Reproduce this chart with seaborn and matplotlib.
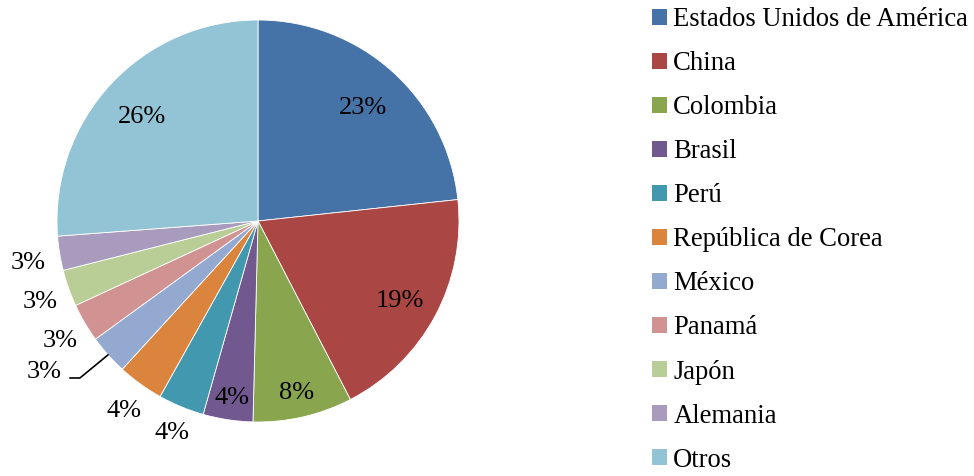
import matplotlib
matplotlib.use('Agg')
import matplotlib.pyplot as plt
import matplotlib.patches as mpatches
import seaborn as sns
import numpy as np

# Data (share of total, %)
countries = ['Estados Unidos de América', 'China', 'Colombia', 'Brasil', 'Perú',
             'República de Corea', 'México', 'Panamá', 'Japón', 'Alemania', 'Otros']
shares = [23.3, 19.1, 8.0, 4.0, 3.7, 3.7, 3.2, 3.1, 2.95, 2.75, 26.2]
colors = ['#4572A7', '#AA4643', '#89A54E', '#71588F', '#4198AF', '#DB843D',
          '#93A9CF', '#D19392', '#B9CD96', '#A99BBD', '#93C4D5']

# radial position of each percentage label (fraction of radius)
label_dist = [0.78, 0.80, 0.86, 0.87, 1.12, 1.14, None, 1.14, 1.15, 1.16, 0.79]

sns.set_theme(style='white')
plt.rcParams['font.family'] = ['Liberation Serif', 'DejaVu Serif']
plt.rcParams['text.color'] = 'black'

fig = plt.figure(figsize=(9.74, 4.76), dpi=100)
W, H = 974, 476
cx, cy, r = 258, 221, 201
ax = fig.add_axes([(cx - r) / W, (H - cy - r) / H, 2 * r / W, 2 * r / H])

wedges, _ = ax.pie(shares, colors=colors, startangle=90, counterclock=False,
                   radius=1, wedgeprops=dict(linewidth=0.6, edgecolor='white'))
ax.set_xlim(-1, 1)
ax.set_ylim(-1, 1)
ax.set_aspect('equal')
ax.axis('off')

fs = 19
for w, val, d in zip(wedges, shares, label_dist):
    mid = np.deg2rad((w.theta1 + w.theta2) / 2)
    txt = f'{round(val):.0f}%'
    if d is None:
        # label with a leader line
        ex, ey = np.cos(mid), np.sin(mid)
        kx, ky = ex - 0.14, ey - 0.115
        tx = kx - 0.05
        ax.plot([ex, kx, tx], [ey, ky, ky], color='black', lw=1.2, clip_on=False)
        ax.text(tx - 0.04, ky + 0.03, txt, ha='right', va='center', fontsize=fs)
    else:
        ax.text(d * np.cos(mid), d * np.sin(mid) - 0.02, txt, ha='center', va='center',
                fontsize=fs, clip_on=False)

handles = [mpatches.Patch(facecolor=c, edgecolor='none') for c in colors]
fig.legend(handles, countries, loc='upper left', bbox_to_anchor=(652 / W, 1 - 7 / H),
           frameon=False, fontsize=19.2, handlelength=0.55, handleheight=0.55,
           handletextpad=0.25, labelspacing=0.715, borderaxespad=0, borderpad=0.0)

fig.savefig('out.png', dpi=100)
